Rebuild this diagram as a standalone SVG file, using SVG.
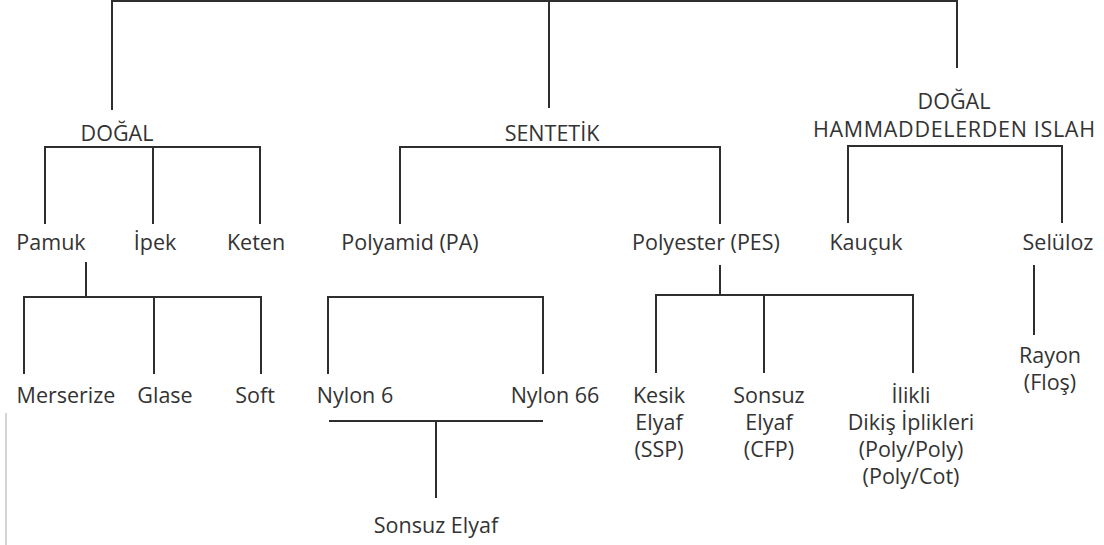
<svg xmlns="http://www.w3.org/2000/svg" width="1104" height="545" viewBox="0 0 1104 545">
<style>
.t{font-family:"Open Sans","Noto Sans","Liberation Sans",sans-serif;font-size:21.5px;font-weight:500;fill:#333;text-anchor:middle}
.c{stroke:#2e2e2e;stroke-width:2;fill:none}
</style>
<rect width="1104" height="545" fill="#fff"/>
<line x1="6" y1="413" x2="6" y2="545" stroke="#c4c4c4" stroke-width="1.5"/>
<g id="connectors" class="c">
<path d="M112 1H957M112 0V110M549 0V108M957 0V68"/>
<path d="M45 224V147H260V224M153 147V224"/>
<path d="M400 224V147H720V224"/>
<path d="M848 223V146H1062V223"/>
<path d="M86 262V297M24 374V297H261V374M154 297V374"/>
<path d="M328 374V297H543V374"/>
<path d="M329 421H543M436 421V498"/>
<path d="M720 265V295M656 373V295H913V373M764 295V373"/>
<path d="M1034 265V335"/>
</g>
<g id="n-dogal"><text class="t" x="117" y="141">DOĞAL</text></g>
<g id="n-sentetik"><text class="t" x="552" y="141">SENTETİK</text></g>
<g id="n-islah"><text class="t" x="954" y="109">DOĞAL</text><text class="t" x="954" y="137" textLength="282" lengthAdjust="spacing">HAMMADDELERDEN ISLAH</text></g>
<g id="n-pamuk"><text class="t" x="51" y="250">Pamuk</text></g>
<g id="n-ipek"><text class="t" x="155" y="250">İpek</text></g>
<g id="n-keten"><text class="t" x="256" y="250">Keten</text></g>
<g id="n-polyamid"><text class="t" x="410" y="250">Polyamid (PA)</text></g>
<g id="n-polyester"><text class="t" x="706" y="250">Polyester (PES)</text></g>
<g id="n-kaucuk"><text class="t" x="866" y="250">Kauçuk</text></g>
<g id="n-seluloz"><text class="t" x="1058" y="250">Selüloz</text></g>
<g id="n-merserize"><text class="t" x="66" y="403">Merserize</text></g>
<g id="n-glase"><text class="t" x="165" y="403">Glase</text></g>
<g id="n-soft"><text class="t" x="255" y="403">Soft</text></g>
<g id="n-nylon6"><text class="t" x="355" y="403">Nylon 6</text></g>
<g id="n-nylon66"><text class="t" x="555" y="403">Nylon 66</text></g>
<g id="n-kesik"><text class="t" x="659" y="403">Kesik</text><text class="t" x="659" y="430">Elyaf</text><text class="t" x="659" y="457">(SSP)</text></g>
<g id="n-sonsuz"><text class="t" x="769" y="403">Sonsuz</text><text class="t" x="769" y="430">Elyaf</text><text class="t" x="769" y="457">(CFP)</text></g>
<g id="n-ilikli"><text class="t" x="911" y="403">İlikli</text><text class="t" x="911" y="430">Dikiş İplikleri</text><text class="t" x="911" y="457">(Poly/Poly)</text><text class="t" x="911" y="484">(Poly/Cot)</text></g>
<g id="n-rayon"><text class="t" x="1050" y="363">Rayon</text><text class="t" x="1050" y="390">(Floş)</text></g>
<g id="n-sonsuz2"><text class="t" x="436" y="533">Sonsuz Elyaf</text></g>
</svg>
